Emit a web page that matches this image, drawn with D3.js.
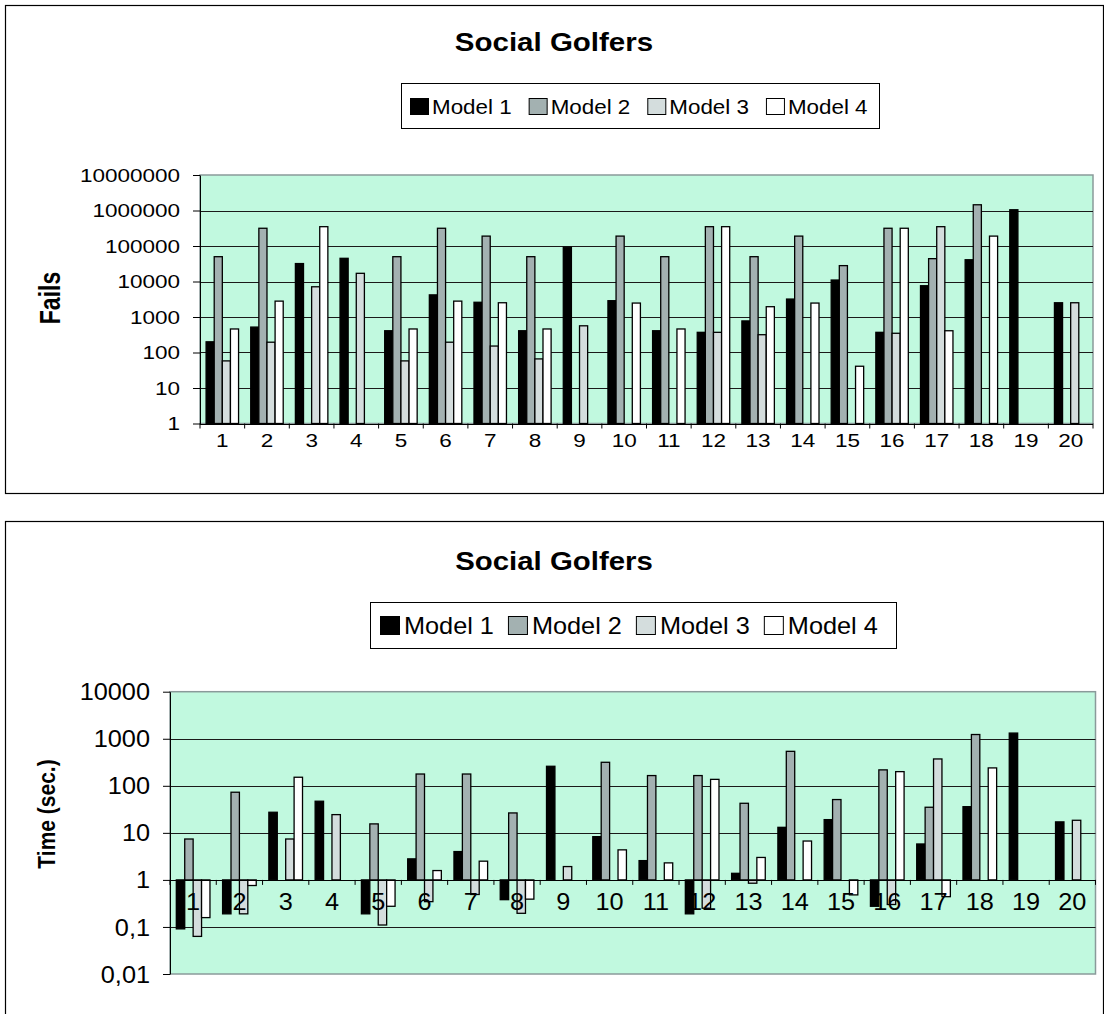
<!DOCTYPE html>
<html>
<head>
<meta charset="utf-8">
<script src="https://cdn.jsdelivr.net/npm/d3@7/dist/d3.min.js"></script>
<style>
body{margin:0;background:#fff;}
text{font-family:"Liberation Sans",Arial,sans-serif;fill:#000;}
</style>
</head>
<body>
<svg id="chart" width="1104" height="1014"></svg>
<script>
/* Social Golfers — two log-scale grouped bar charts (fails, time) in Excel 2003 style */
var categories=["1","2","3","4","5","6","7","8","9","10","11","12","13","14","15","16","17","18","19","20"];
var models=["Model 1","Model 2","Model 3","Model 4"];
var modelColors=["#000000","#a3b1b1","#d4dddd","#ffffff"];

// fails per instance (null = no bar)
var failsM1=[200,520,32000,45000,410,4200,2600,410,93000,2880,410,370,775,3200,11000,370,7600,41000,1050000,2520];
var failsM2=[50000,316000,null,null,50000,316000,190000,50000,null,190000,50000,350000,50000,190000,28000,316000,44000,1450000,null,null];
var failsM3=[58,195,7100,17000,58,195,152,66,565,null,null,370,317,null,null,348,350000,null,null,2520];
var failsM4=[460,2800,350000,null,460,2800,2520,460,null,2470,460,350000,1950,2470,41,316000,410,190000,null,null];

// time in seconds (null = no bar)
var timeM1=[0.091,0.19,27.4,47,0.19,2.8,4.0,0.38,260,8.3,2.57,0.19,1.38,13.1,19.1,0.275,5.8,36,1320,17.1];
var timeM2=[7.4,73,null,null,15.5,178,178,26.5,null,316,165,165,42.5,540,51,218,35,1230,null,null];
var timeM3=[0.063,0.19,7.4,24.4,0.11,0.345,0.49,0.195,1.92,null,null,0.25,0.85,null,null,0.30,372,null,null,18.5];
var timeM4=[0.158,0.76,152,null,0.275,1.58,2.5,0.39,null,4.35,2.3,137,3.0,6.7,0.48,200,0.44,240,null,null];

var failsTicks=[1,10,100,1000,10000,100000,1000000,10000000];
var failsTickLabels=["1","10","100","1000","10000","100000","1000000","10000000"];
var timeTicks=[0.01,0.1,1,10,100,1000,10000];
var timeTickLabels=["0,01","0,1","1","10","100","1000","10000"];

var svg=d3.select("#chart");
var MINT="#c1f9df";

function stext(g,x,y,s,size,sx,anchor,weight,rot){
    return g.append("text")
        .attr("transform","translate("+x+","+y+") scale("+sx+",1)"+(rot?" rotate("+rot+")":""))
        .attr("text-anchor",anchor||"start").attr("dominant-baseline","central")
        .style("font-size",size+"px").style("font-weight",weight||"normal").text(s);
}

function drawChart(c){
    var g=svg.append("g");
    g.append("rect").attr("x",c.box[0]+0.5).attr("y",c.box[1]+0.5).attr("width",c.box[2]).attr("height",c.box[3])
        .attr("fill","#fff").attr("stroke","#000").attr("stroke-width",1.2);

    stext(g,554,c.titleY,"Social Golfers",c.titleSize,c.titleSx,"middle","bold");

    // legend
    var L=c.legend;
    g.append("rect").attr("x",L.x+0.5).attr("y",L.y+0.5).attr("width",L.w).attr("height",L.h)
        .attr("fill","#fff").attr("stroke","#000");
    var cy=L.y+L.h/2, lx=L.start;
    models.forEach(function(m,i){
        g.append("rect").attr("x",lx+0.5).attr("y",Math.round(cy-L.swH/2)+0.5).attr("width",L.swW).attr("height",L.swH)
            .attr("fill",modelColors[i]).attr("stroke","#000");
        var t=stext(g,lx+L.swW+L.textGap,cy+1,m,L.size,L.sx,"start");
        lx+=L.swW+L.textGap+t.node().getComputedTextLength()*L.sx+L.gap;
    });

    var p=c.plot;
    var x=d3.scaleBand().domain(categories).range([p.left,p.right]).padding(0);
    var xi=d3.scaleBand().domain(models).range([0,x.bandwidth()]).paddingInner(0).paddingOuter(0.75);
    var y=d3.scaleLog().domain(c.domain).range([p.bottom,p.top]);
    var base=y(1);

    g.append("rect").attr("x",p.left).attr("y",p.top).attr("width",p.right-p.left).attr("height",p.bottom-p.top)
        .attr("fill",MINT).attr("stroke","#8a9a9a").attr("stroke-width",1.5);

    g.selectAll("line.grid").data(c.ticks.filter(function(v){return v!==c.domain[0]&&v!==c.domain[1]&&v!==1;}))
        .enter().append("line").attr("class","grid")
        .attr("x1",p.left).attr("x2",p.right)
        .attr("y1",function(d){return Math.round(y(d))+0.5;}).attr("y2",function(d){return Math.round(y(d))+0.5;})
        .attr("stroke","#1a1a1a").attr("stroke-width",1);

    c.series.forEach(function(vals,j){
        var rows=vals.map(function(v,i){return {cat:categories[i],v:v};}).filter(function(d){return d.v!=null;});
        g.selectAll("rect.s"+j).data(rows).enter().append("rect").attr("class","s"+j)
            .attr("x",function(d){return x(d.cat)+xi(models[j]);})
            .attr("width",xi.bandwidth())
            .attr("y",function(d){return Math.min(y(d.v),base);})
            .attr("height",function(d){return Math.abs(y(d.v)-base);})
            .attr("fill",modelColors[j]).attr("stroke","#000").attr("stroke-width",1.3);
    });

    // value axis
    var ya=g.append("g").attr("transform","translate("+p.left+",0)")
        .call(d3.axisLeft(y).tickValues(c.ticks).tickSize(7).tickSizeOuter(0)
            .tickFormat(function(d,i){return c.tickLabels[i];}));
    ya.select(".domain").attr("stroke","#000");
    ya.selectAll("text").attr("x",-(7+c.tickPad)/c.sx).attr("dy",null).attr("dominant-baseline","central")
        .attr("transform","scale("+c.sx+",1)").style("font-size",c.tickSize+"px")
        .style("font-family","'Liberation Sans',Arial,sans-serif").attr("fill","#000");

    // category axis at value 1
    g.append("line").attr("x1",p.left).attr("x2",p.right).attr("y1",Math.round(base)+0.5).attr("y2",Math.round(base)+0.5)
        .attr("stroke","#000");
    var bounds=categories.map(function(d){return x(d);}).concat([p.right]);
    g.selectAll("line.ctick").data(bounds).enter().append("line").attr("class","ctick")
        .attr("x1",function(d){return d;}).attr("x2",function(d){return d;})
        .attr("y1",base).attr("y2",base+5).attr("stroke","#000");
    categories.forEach(function(cat){
        stext(g,x(cat)+x.bandwidth()/2,base+c.catDy,cat,c.tickSize,c.sx,"middle");
    });

    stext(g,c.axisTitle[0],c.axisTitle[1],c.axisTitle[2],c.axisTitleSize,c.sx,"middle","bold",-90);
}

drawChart({
    box:[5,5,1098,488], titleY:42, titleSize:25, titleSx:1.18, sx:1.25,
    legend:{x:401,y:83,w:478,h:45,start:410,swW:18,swH:16,textGap:4,gap:17,size:20,sx:1.12},
    plot:{left:200,right:1093,top:175,bottom:423.5},
    domain:[1,10000000], ticks:failsTicks, tickLabels:failsTickLabels,
    tickSize:18, tickPad:13, catDy:17.5,
    series:[failsM1,failsM2,failsM3,failsM4],
    axisTitle:[50,298,"Fails"], axisTitleSize:23
});

drawChart({
    box:[5,521,1098,520], titleY:561, titleSize:26, titleSx:1.13, sx:1.1,
    legend:{x:370,y:602,w:526,h:46,start:380,swW:19,swH:18,textGap:5,gap:14,size:23,sx:1.1},
    plot:{left:170,right:1095.5,top:691.7,bottom:974},
    domain:[0.01,10000], ticks:timeTicks, tickLabels:timeTickLabels,
    tickSize:23, tickPad:13, catDy:22.5,
    series:[timeM1,timeM2,timeM3,timeM4],
    axisTitle:[47,814,"Time (sec.)"], axisTitleSize:21
});
</script>
</body>
</html>
